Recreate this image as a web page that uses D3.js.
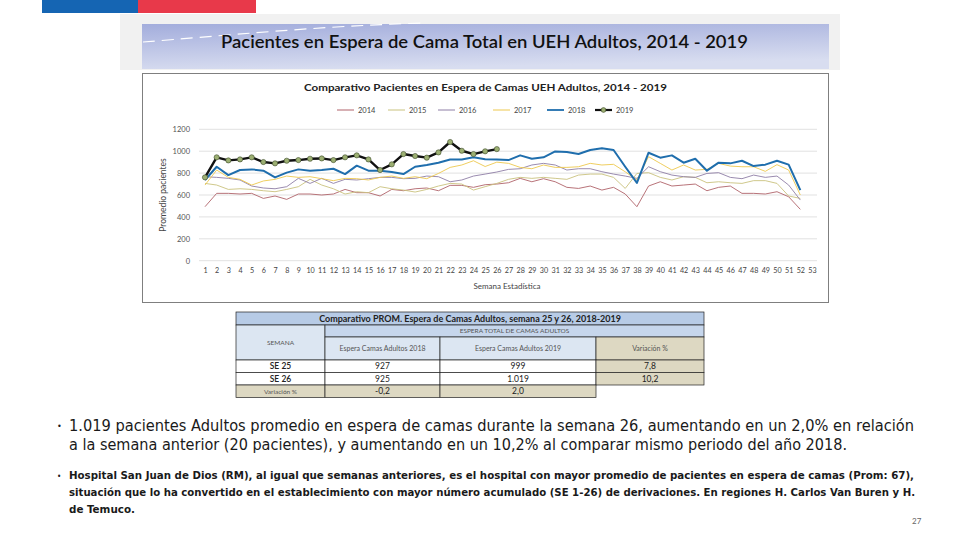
<!DOCTYPE html>
<html><head><meta charset="utf-8">
<script src="https://cdn.jsdelivr.net/npm/d3@7"></script>
<style>
html,body{margin:0;padding:0;background:#fff;}
svg{display:block;}
</style></head>
<body>
<svg id="c" width="960" height="540"></svg>
<script>
// ---------- DATA ----------
const weeks = [1,2,3,4,5,6,7,8,9,10,11,12,13,14,15,16,17,18,19,20,21,22,23,24,25,26,27,28,29,30,31,32,33,34,35,36,37,38,39,40,41,42,43,44,45,46,47,48,49,50,51,52,53];
const yTicks = [0,200,400,600,800,1000,1200];
const seriesNames = ["2014","2015","2016","2017","2018","2019"];
const v2014 = [493,615,615,609,615,569,591,560,609,609,600,609,651,621,621,591,651,639,657,664,639,688,688,670,694,700,712,752,721,749,721,670,660,682,645,670,609,493,682,721,682,691,700,639,670,682,615,615,609,630,584,469];
const v2015 = [706,691,651,657,651,639,630,651,676,743,691,657,609,630,621,676,657,645,627,651,682,706,700,645,676,706,743,761,752,761,752,743,782,791,791,761,660,797,804,761,737,767,761,712,721,712,706,731,731,706,591,569];
const v2016 = [767,761,752,737,682,664,657,676,752,706,752,706,743,737,749,761,761,749,752,773,767,721,737,773,791,810,834,840,874,889,874,828,840,840,813,791,773,752,858,813,782,767,761,797,804,761,749,782,761,773,691,554];
const v2017 = [691,828,761,743,691,728,743,773,761,767,749,731,752,749,737,761,773,752,767,749,797,852,874,913,860,900,889,852,840,874,852,852,858,889,874,880,812,737,950,889,828,874,828,834,889,864,858,858,816,877,828,600];
const v2018 = [737,858,782,828,834,822,761,804,834,822,828,840,791,868,822,822,810,791,858,874,895,925,925,944,927,925,919,962,931,944,998,992,974,1011,1026,1011,858,710,986,941,962,895,931,822,895,889,913,864,877,913,877,645];
const v2019 = [761,944,916,925,944,901,889,913,919,931,934,919,944,962,925,828,880,974,956,941,989,1084,1004,974,999,1019];

const tableHead = ["SEMANA","Espera Camas Adultos 2018","Espera Camas Adultos 2019","Variación %"];
const tableRows = [["SE 25","927","999","7,8"],["SE 26","925","1.019","10,2"],["Variación %","-0,2","2,0",""]];

const bullet1 = ["1.019 pacientes Adultos promedio en espera de camas durante la semana 26, aumentando  en un 2,0% en relación",
                 "a la semana anterior (20 pacientes),  y aumentando en un 10,2% al comparar mismo periodo del año 2018."];
const bullet2 = ["Hospital San Juan de Dios (RM), al igual que semanas anteriores, es el hospital con mayor promedio de pacientes en espera de camas (Prom: 67),",
                 "situación que lo ha convertido en el establecimiento con mayor número acumulado (SE 1-26) de derivaciones. En regiones H. Carlos Van Buren  y H.",
                 "de Temuco."];

// ---------- DRAW ----------
const svg = d3.select("#c");
const F = "Lato, 'Open Sans', sans-serif";
const NF = "'Liberation Sans Narrow','DejaVu Sans Condensed', Lato, sans-serif";

// top bars
svg.append("rect").attr("x",42).attr("y",0).attr("width",96).attr("height",13).attr("fill","#1565B3");
svg.append("rect").attr("x",138).attr("y",0).attr("width",118).attr("height",13).attr("fill","#E8394A");

// header box
svg.append("rect").attr("x",120).attr("y",14).attr("width",720).attr("height",56).attr("fill","#F1F1F1");
const defs = svg.append("defs");
const g1 = defs.append("linearGradient").attr("id","hg").attr("x1","0").attr("y1","0").attr("x2","0.3").attr("y2","1");
g1.append("stop").attr("offset","0").attr("stop-color","#A3ADDC");
g1.append("stop").attr("offset","1").attr("stop-color","#D8DDF0");
svg.append("rect").attr("x",142).attr("y",24).attr("width",687).attr("height",45).attr("fill","url(#hg)");
svg.append("path").attr("d","M143,42 C220,36 320,26 423,23").attr("fill","none")
  .attr("stroke","#fff").attr("stroke-width",1.2).attr("stroke-dasharray","12,7");
svg.append("text").attr("x",221).attr("y",48).attr("font-family",F).attr("font-size",17).attr("font-weight",600)
  .attr("fill","#111").attr("textLength",527).attr("lengthAdjust","spacingAndGlyphs")
  .text("Pacientes en Espera de Cama Total en UEH Adultos, 2014 - 2019");

// chart frame
svg.append("rect").attr("x",142.5).attr("y",73.5).attr("width",686).attr("height",229).attr("fill","#fff")
  .attr("stroke","#7f7f7f").attr("stroke-width",1);

svg.append("text").attr("x",304).attr("y",91).attr("font-family",F).attr("font-size",10).attr("font-weight",700)
  .attr("fill","#222").attr("textLength",363).attr("lengthAdjust","spacingAndGlyphs")
  .text("Comparativo Pacientes en Espera de Camas UEH Adultos, 2014 - 2019");

const colors = {"2014":"#B0636A","2015":"#C9C27E","2016":"#8E7EA6","2017":"#EDC84E","2018":"#1F6EAD","2019":"#111111"};
const widths = {"2014":0.9,"2015":0.9,"2016":0.9,"2017":0.9,"2018":2,"2019":2.4};
const dataMap = {"2014":v2014,"2015":v2015,"2016":v2016,"2017":v2017,"2018":v2018,"2019":v2019};

const x = d3.scalePoint().domain(weeks).range([205,812]);
const y = d3.scaleLinear().domain([0,1200]).range([260.7,129.3]);

// grid
const gridG = svg.append("g");
gridG.selectAll("line").data(yTicks).join("line")
  .attr("x1",199).attr("x2",817).attr("y1",d=>y(d)).attr("y2",d=>y(d))
  .attr("stroke","#d9d9d9").attr("stroke-width",0.8);

// y axis
const yAx = svg.append("g").attr("transform","translate(199,0)")
  .call(d3.axisLeft(y).tickValues(yTicks).tickSize(0).tickPadding(9).tickFormat(d3.format("d")));
yAx.select(".domain").remove();
yAx.selectAll("text").attr("font-family",F).attr("font-size",7.5).attr("fill","#555");

// x axis
const xAx = svg.append("g").attr("transform","translate(0,266)")
  .call(d3.axisBottom(x).tickSize(0).tickPadding(2));
xAx.select(".domain").remove();
xAx.selectAll("text").attr("font-family",F).attr("font-size",7.2).attr("fill","#444");

svg.append("text").attr("transform","translate(166,195) rotate(-90)").attr("text-anchor","middle")
  .attr("font-family",F).attr("font-size",8.5).attr("fill","#444").text("Promedio pacientes");
svg.append("text").attr("x",507).attr("y",289).attr("text-anchor","middle")
  .attr("font-family",F).attr("font-size",8).attr("fill","#444").text("Semana Estadística");

// lines
const line = d3.line().x((d,i)=>x(weeks[i])).y(d=>y(d));
seriesNames.forEach(n=>{
  svg.append("path").datum(dataMap[n]).attr("d",line).attr("fill","none")
    .attr("stroke",colors[n]).attr("stroke-width",widths[n]).attr("stroke-linejoin","round");
});
svg.append("g").selectAll("circle").data(v2019).join("circle")
  .attr("cx",(d,i)=>x(weeks[i])).attr("cy",d=>y(d)).attr("r",2.6)
  .attr("fill","#9CAF72").attr("stroke","#3d4a2a").attr("stroke-width",0.6);

// legend
const legX = [337,388,438,493,547,595];
const legG = svg.append("g");
seriesNames.forEach((n,i)=>{
  legG.append("line").attr("x1",legX[i]).attr("x2",legX[i]+17).attr("y1",110).attr("y2",110)
    .attr("stroke",colors[n]).attr("stroke-width",n==="2019"?2.2:(n==="2018"?1.8:1));
  if(n==="2019") legG.append("circle").attr("cx",legX[i]+8.5).attr("cy",110).attr("r",2.4)
    .attr("fill","#9CAF72").attr("stroke","#3d4a2a").attr("stroke-width",0.6);
  legG.append("text").attr("x",legX[i]+21).attr("y",112.8).attr("font-family",F).attr("font-size",7.5)
    .attr("fill","#444").text(n);
});

// ---------- TABLE ----------
const T = svg.append("g").attr("font-family",F);
const cx = [236,325,440,596,704];
function cell(x0,y0,w,h,fill,txt,opts={}){
  T.append("rect").attr("x",x0).attr("y",y0).attr("width",w).attr("height",h).attr("fill",fill)
    .attr("stroke",opts.nostroke?"none":"#222").attr("stroke-width",0.7);
  if(txt) T.append("text").attr("x",x0+w/2).attr("y",y0+h/2+(opts.fs||8)*0.35).attr("text-anchor","middle")
    .attr("font-size",opts.fs||8).attr("font-weight",opts.fw||400).attr("fill",opts.col||"#333").text(txt);
}
cell(236,312,468,13,"#B7CBE6","Comparativo PROM. Espera de Camas Adultos, semana 25 y 26, 2018-2019",{fs:9,fw:700,col:"#222"});
cell(236,325,89,35,"#DCE6F2",tableHead[0],{fs:6.5,col:"#555"});
cell(325,325,379,12,"#C6D6EC","ESPERA TOTAL DE CAMAS ADULTOS",{fs:6.5,col:"#555"});
cell(325,337,115,23,"#DCE6F2",tableHead[1],{fs:7,col:"#555"});
cell(440,337,156,23,"#DCE6F2",tableHead[2],{fs:7,col:"#555"});
cell(596,337,108,23,"#DDD8C2",tableHead[3],{fs:7,col:"#555"});
const rowY = [360,372.5,385];
tableRows.forEach((r,ri)=>{
  r.forEach((v,ci)=>{
    const w = cx[ci+1]-cx[ci];
    let fill = "#fff";
    if(ci===3 || ri===2) fill = "#DDD8C2";
    if(ri===2 && ci===3){ return; }
    const bold = ri<2 && ci===0;
    cell(cx[ci],rowY[ri],w,12.5,fill,v,{fs:(ri===2&&ci===0)?6.5:8.5,fw:bold?600:400,col:(ri===2&&ci===0)?"#555":"#222"});
  });
});

// ---------- BULLETS ----------
const B = svg.append("g").attr("font-family",NF).attr("fill","#1a1a1a");
B.append("text").attr("x",57).attr("y",429).attr("font-size",9).text("•");
B.append("text").attr("x",69).attr("y",431).attr("font-size",15.5).attr("textLength",845).attr("lengthAdjust","spacingAndGlyphs").text(bullet1[0]);
B.append("text").attr("x",69).attr("y",450).attr("font-size",15.5).attr("textLength",778).attr("lengthAdjust","spacingAndGlyphs").text(bullet1[1]);
B.append("text").attr("x",57).attr("y",479).attr("font-size",8).text("•");
const b2len = [845,846,66];
const b2y = [479,496,513];
bullet2.forEach((t,i)=>{
  B.append("text").attr("x",69).attr("y",b2y[i]).attr("font-size",11).attr("font-weight",700)
    .attr("textLength",b2len[i]).attr("lengthAdjust","spacingAndGlyphs").text(t);
});
svg.append("text").attr("x",912).attr("y",524).attr("font-family",F).attr("font-size",8).attr("fill","#666").text("27");
</script>
</body></html>
